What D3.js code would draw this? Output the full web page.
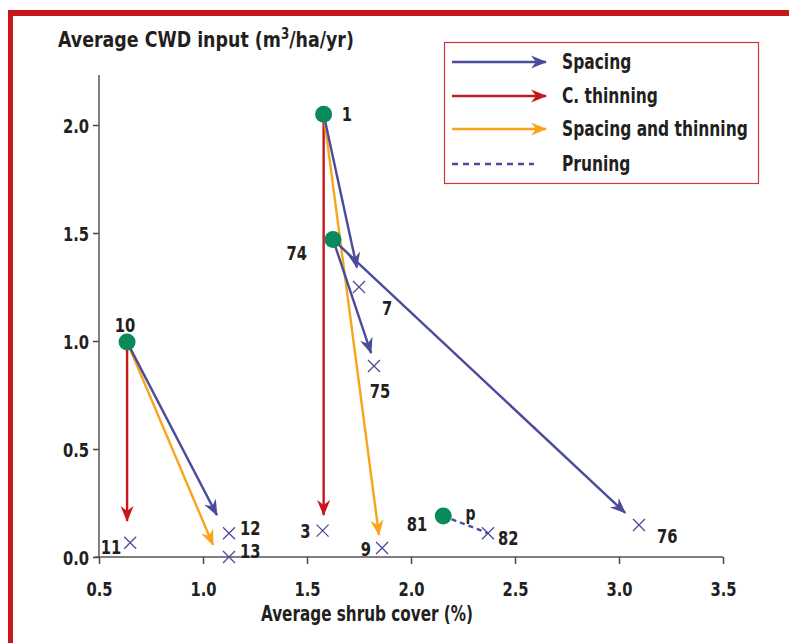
<!DOCTYPE html>
<html><head><meta charset="utf-8">
<script src="https://cdn.jsdelivr.net/npm/d3@7"></script>
<style>
body{margin:0;background:#fff;}
text{font-family:"Liberation Sans Narrow","DejaVu Sans Condensed","Roboto Condensed",sans-serif;font-weight:bold;fill:#231f20;}
</style></head>
<body>
<svg id="c" width="789" height="643"></svg>
<script>
// ---- data ----
const xTicks = [0.5, 1.0, 1.5, 2.0, 2.5, 3.0, 3.5];
const yTicks = [0.0, 0.5, 1.0, 1.5, 2.0];
// start plots (green dots)
const startPlots = [
  {id:"1",  x:1.58, y:2.05},
  {id:"74", x:1.625, y:1.47},
  {id:"10", x:0.635, y:0.995},
  {id:"81", x:2.155, y:0.19}
];
// end plots (crosses)
const endPlots = [
  {id:"7",  x:1.75,  y:1.25},
  {id:"75", x:1.822, y:0.884},
  {id:"11", x:0.65,  y:0.066},
  {id:"12", x:1.125, y:0.11},
  {id:"13", x:1.125, y:0.0},
  {id:"3",  x:1.575, y:0.122},
  {id:"9",  x:1.861, y:0.042},
  {id:"82", x:2.37,  y:0.11},
  {id:"76", x:3.096, y:0.148}
];
// treatment arrows: from start plot to arrow tip
const spacingArrows = [
  {from:"1",  tx:1.74,  ty:1.34},
  {from:"74", tx:1.808, ty:0.944},
  {from:"74", tx:3.03,  ty:0.204},
  {from:"10", tx:1.067, ty:0.194}
];
const thinningArrows = [
  {from:"1",  tx:1.58,  ty:0.194},
  {from:"10", tx:0.635, ty:0.167}
];
const spacingThinningArrows = [
  {from:"1",  tx:1.846, ty:0.102},
  {from:"10", tx:1.048, ty:0.056}
];
const pruningLines = [
  {from:"81", to:"82"}
];
const legendItems = ["Spacing", "C. thinning", "Spacing and thinning", "Pruning"];

// ---- drawing ----
const C = {blue:"#4b4b9b", red:"#c8161d", orange:"#f8a51c", green:"#0a8a5b", text:"#231f20"};
const svg = d3.select("#c");
const x = d3.scaleLinear().domain([0.5, 3.5]).range([99, 723]);
const y = d3.scaleLinear().domain([0, 2]).range([557, 125]);
const SQ = 0.82; // horizontal squeeze to mimic a condensed face

function txt(parent, px, py, str, size, anchor, sx){
  return parent.append("text")
    .attr("transform",`translate(${px},${py}) scale(${sx||SQ},1)`)
    .attr("text-anchor",anchor||"start").attr("dominant-baseline","central")
    .style("font-size",size+"px").text(str);
}

// frame
svg.append("rect").attr("x",8).attr("y",10).attr("width",781).attr("height",6).attr("fill",C.red);
svg.append("rect").attr("x",8).attr("y",10).attr("width",5).attr("height",633).attr("fill",C.red);

const defs = svg.append("defs");
function marker(id, color){
  defs.append("marker").attr("id",id).attr("markerUnits","userSpaceOnUse")
    .attr("viewBox","-16 -8 18 16").attr("refX",0).attr("refY",0)
    .attr("markerWidth",18).attr("markerHeight",16).attr("orient","auto")
    .append("path").attr("d","M1,0 L-15,-6.5 L-10,0 L-15,6.5 Z").attr("fill",color);
}
marker("mb", C.blue); marker("mr", C.red); marker("mo", C.orange);

// axes
const gx = svg.append("g").attr("transform","translate(0,557)")
  .call(d3.axisBottom(x).tickValues(xTicks).tickFormat(d3.format(".1f")).tickSize(7).tickPadding(9));
const gy = svg.append("g").attr("transform","translate(99,0)")
  .call(d3.axisLeft(y).tickValues(yTicks).tickFormat(d3.format(".1f")).tickSize(6).tickPadding(6));
[gx,gy].forEach(g=>{
  g.select(".domain").remove();
  g.selectAll(".tick line").attr("stroke","#444").attr("stroke-width",1.5);
  g.selectAll(".tick text").style("font-size","20px").attr("fill",C.text);
});
gx.selectAll(".tick text").attr("y",null).attr("dy",null)
  .attr("transform",`translate(0,32) scale(${SQ},1)`).attr("dominant-baseline","central");
gy.selectAll(".tick text").attr("x",null).attr("dy",null)
  .attr("transform",`translate(-10,0) scale(${SQ},1)`).attr("dominant-baseline","central");
svg.append("line").attr("x1",95).attr("x2",723).attr("y1",557).attr("y2",557).attr("stroke","#555").attr("stroke-width",1.5);
svg.append("line").attr("x1",99).attr("x2",99).attr("y1",75).attr("y2",557).attr("stroke","#555").attr("stroke-width",1.5);

// axis titles
const yt = svg.append("text").attr("transform","translate(58,47) scale(0.88,1)").style("font-size","22px");
yt.append("tspan").text("Average CWD input (m");
yt.append("tspan").attr("dy",-8).style("font-size","15px").text("3");
yt.append("tspan").attr("dy",8).text("/ha/yr)");
txt(svg, 367, 614, "Average shrub cover (%)", 22, "middle", 0.77);

const byId = {};
startPlots.concat(endPlots).forEach(d=>byId[d.id]=d);

function drawArrows(arr, color, mid){
  svg.append("g").selectAll("line").data(arr).join("line")
    .attr("x1",d=>x(byId[d.from].x)).attr("y1",d=>y(byId[d.from].y))
    .attr("x2",d=>x(d.tx)).attr("y2",d=>y(d.ty))
    .attr("stroke",color).attr("stroke-width",2.4)
    .attr("marker-end",`url(#${mid})`);
}
drawArrows(thinningArrows, C.red, "mr");
drawArrows(spacingThinningArrows, C.orange, "mo");
drawArrows(spacingArrows, C.blue, "mb");

svg.append("g").selectAll("line").data(pruningLines).join("line")
  .attr("x1",d=>x(byId[d.from].x)).attr("y1",d=>y(byId[d.from].y))
  .attr("x2",d=>x(byId[d.to].x)).attr("y2",d=>y(byId[d.to].y))
  .attr("stroke",C.blue).attr("stroke-width",2.4).attr("stroke-dasharray","5,4");

// crosses
svg.append("g").selectAll("path").data(endPlots).join("path")
  .attr("d",d=>{const cx=x(d.x), cy=y(d.y), s=6;
    return `M${cx-s},${cy-s}L${cx+s},${cy+s}M${cx-s},${cy+s}L${cx+s},${cy-s}`;})
  .attr("stroke",C.blue).attr("stroke-width",1.3).attr("fill","none");

// dots
svg.append("g").selectAll("circle").data(startPlots).join("circle")
  .attr("cx",d=>x(d.x)).attr("cy",d=>y(d.y)).attr("r",8.5).attr("fill",C.green);

// plot labels (offsets in px)
const labelOffsets = {
  "1":[18,0,"start"], "74":[-26,13,"end"], "10":[-2,-17,"middle"], "81":[-16,8,"end"],
  "7":[23,21,"start"], "75":[6,25,"middle"], "11":[-9,4,"end"], "12":[11,-5,"start"],
  "13":[11,-6,"start"], "3":[-12,0,"end"], "9":[-11,1,"end"], "82":[10,5,"start"], "76":[18,11,"start"]
};
const lg0 = svg.append("g");
startPlots.concat(endPlots).forEach(d=>{
  const o = labelOffsets[d.id];
  txt(lg0, x(d.x)+o[0], y(d.y)+o[1], d.id, 20, o[2]);
});
// pruning label
txt(svg, (x(byId["81"].x)+x(byId["82"].x))/2+5, (y(byId["81"].y)+y(byId["82"].y))/2-11, "p", 19, "middle");

// legend
const lg = svg.append("g");
lg.append("rect").attr("x",444.5).attr("y",42.5).attr("width",314).attr("height",141)
  .attr("fill","#fff").attr("stroke","#d0353d").attr("stroke-width",1.2);
const lColors = [C.blue, C.red, C.orange, C.blue];
const lMarkers = ["mb","mr","mo",null];
const lY = [62, 96, 129, 164];
legendItems.forEach((t,i)=>{
  const ln = lg.append("line").attr("x1",452).attr("y1",lY[i]).attr("y2",lY[i])
    .attr("stroke",lColors[i]).attr("stroke-width",2.4);
  if(lMarkers[i]) ln.attr("x2",546).attr("marker-end",`url(#${lMarkers[i]})`);
  else ln.attr("x2",534).attr("stroke-dasharray","6,5");
  txt(lg, 562, lY[i], t, 21, "start");
});
</script>
</body></html>
